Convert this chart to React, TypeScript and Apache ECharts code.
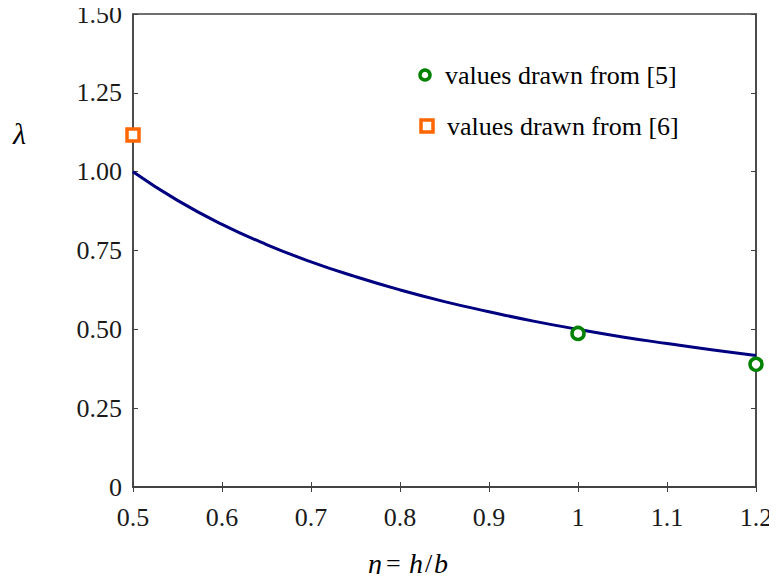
import React, { useEffect, useRef } from "react";
import * as echarts from "echarts";

const etaValues = [0.5, 0.55, 0.6, 0.65, 0.7, 0.75, 0.8, 0.85, 0.9, 0.95, 1.0, 1.05, 1.1, 1.15, 1.2];
const lambdaValues = [1.0, 0.909, 0.833, 0.769, 0.714, 0.667, 0.625, 0.588, 0.556, 0.526, 0.5, 0.476, 0.455, 0.435, 0.417];
const ref5Eta = [1.0, 1.2];
const ref5Lambda = [0.487, 0.389];
const ref6Eta = [0.5];
const ref6Lambda = [1.116];
const seriesNames = ["values drawn from [5]", "values drawn from [6]"];

const FONT = "'Liberation Serif', serif";
const GFONT = "serif";
const TXT = "#1a1a1a";
const AX = "#404040";
const GREEN = "#008200";
const ORANGE = "#ff6600";

export default function App() {
  const ref = useRef<HTMLDivElement>(null);
  useEffect(() => {
    const chart = echarts.init(ref.current!, null, { renderer: "svg" });
    const tickInside = { show: true, inside: true, length: 5, lineStyle: { color: AX, width: 1 } };
    const txt = (text: string, x: number, y: number, size: number, italic: boolean) => {
      const style: any = { text, fontSize: size, fill: "#000", fontFamily: GFONT };
      if (italic) style.fontStyle = "italic";
      return { type: "text", x, y, style };
    };
    chart.setOption({
      animation: false,
      backgroundColor: "#ffffff",
      grid: {
        left: 133,
        top: 14,
        right: 21,
        bottom: 95,
        show: true,
        borderColor: AX,
        borderWidth: 1.5,
        backgroundColor: "transparent",
        outerBoundsMode: "none",
        containLabel: false,
      },
      graphic: [
        {
          type: "circle",
          shape: { cx: 425, cy: 75, r: 5 },
          style: { fill: "#ffffff", stroke: GREEN, lineWidth: 3.5 },
        },
        txt(seriesNames[0], 445, 62, 26, false),
        {
          type: "rect",
          shape: { x: 421, y: 120, width: 12, height: 12 },
          style: { fill: "#ffffff", stroke: ORANGE, lineWidth: 3.5 },
        },
        txt(seriesNames[1], 447, 113, 26, false),
        txt("λ", 13, 118, 30, true),
        txt("η", 368, 549, 28, true),
        txt("=", 386, 550, 26, false),
        txt("h", 409, 549, 28, true),
        txt("/", 425, 550, 26, false),
        txt("b", 434, 549, 28, true),
      ],
      xAxis: [
        {
          type: "value",
          min: 0.5,
          max: 1.2,
          interval: 0.1,
          position: "bottom",
          axisLine: { show: true, lineStyle: { color: AX, width: 1.5 } },
          axisTick: tickInside,
          splitLine: { show: false },
          axisLabel: {
            margin: 17,
            fontFamily: FONT,
            fontSize: 26,
            color: TXT,
            formatter: (v: number) => String(Number(v.toFixed(1))),
          },
        },
        {
          type: "value",
          min: 0.5,
          max: 1.2,
          interval: 0.1,
          position: "top",
          axisLine: { show: true, lineStyle: { color: AX, width: 1.5 } },
          axisTick: tickInside,
          splitLine: { show: false },
          axisLabel: { show: false },
        },
      ],
      yAxis: [
        {
          type: "value",
          min: 0,
          max: 1.5,
          interval: 0.25,
          position: "left",
          axisLine: { show: true, lineStyle: { color: AX, width: 1.5 } },
          axisTick: tickInside,
          splitLine: { show: false },
          axisLabel: {
            margin: 11,
            fontFamily: FONT,
            fontSize: 26,
            color: TXT,
            formatter: (v: number) => (v === 0 ? "0" : v.toFixed(2)),
          },
        },
        {
          type: "value",
          min: 0,
          max: 1.5,
          interval: 0.25,
          position: "right",
          axisLine: { show: true, lineStyle: { color: AX, width: 1.5 } },
          axisTick: tickInside,
          splitLine: { show: false },
          axisLabel: { show: false },
        },
      ],
      series: [
        {
          type: "line",
          data: etaValues.map((x, i) => [x, lambdaValues[i]]),
          smooth: true,
          showSymbol: false,
          lineStyle: { color: "#000080", width: 3 },
          z: 2,
        },
        {
          name: seriesNames[0],
          type: "scatter",
          data: ref5Eta.map((x, i) => [x, ref5Lambda[i]]),
          symbol: "circle",
          symbolSize: 12,
          itemStyle: { color: "#ffffff", borderColor: GREEN, borderWidth: 3.5, opacity: 1 },
          z: 5,
        },
        {
          name: seriesNames[1],
          type: "scatter",
          data: ref6Eta.map((x, i) => [x, ref6Lambda[i]]),
          symbol: "rect",
          symbolSize: 12,
          itemStyle: { color: "#ffffff", borderColor: ORANGE, borderWidth: 3.5, opacity: 1 },
          z: 5,
        },
      ],
    });
    return () => chart.dispose();
  }, []);
  return <div ref={ref} style={{ width: 777, height: 582, margin: -8 }} />;
}
